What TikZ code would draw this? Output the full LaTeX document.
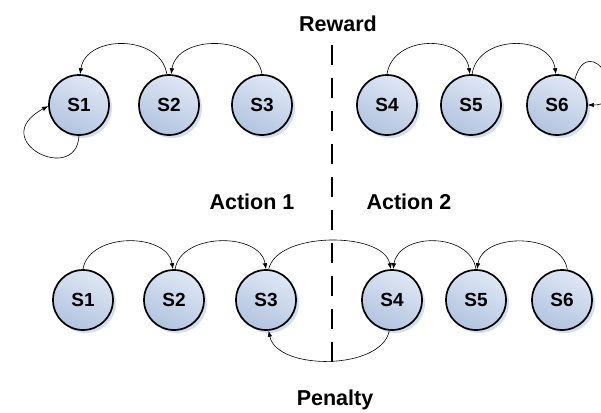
\documentclass[tikz,border=0pt]{standalone}
\usepackage{fontspec}
\setmainfont{Liberation Sans}
\usetikzlibrary{arrows.meta,shadows}

\definecolor{statetop}{HTML}{DFE7F4}
\definecolor{statebottom}{HTML}{B2C4E0}
\definecolor{shadowblue}{HTML}{C9D6EC}

\tikzset{
  statenode/.style={circle, draw=black, line width=1.7pt, minimum size=60pt, inner sep=0pt,
    top color=statetop, bottom color=statebottom, shading angle=-25,
    font=\fontsize{19}{21}\selectfont\bfseries,
    drop shadow={shadow xshift=3pt, shadow yshift=-3pt, fill=shadowblue, opacity=0.8}},
  heading/.style={font=\fontsize{21.5}{24}\selectfont\bfseries, inner sep=0pt},
  trans/.style={-{Latex[length=6pt,width=4.5pt]}, line width=0.6pt},
  divider/.style={line width=1.3pt, dash pattern=on 20pt off 13pt}
}

\begin{document}
\begin{tikzpicture}[x=1pt, y=-1pt]
  \useasboundingbox (0,0) rectangle (601,412);
  \clip (0,0) rectangle (601,412);
  \fill[white] (0,0) rectangle (601,412);

  % divider between the two actions
  \coordinate (divtop) at (332,45);
  \coordinate (divbot) at (332,374);
  \draw[divider] (divtop) -- (divbot);

  % headings
  \node[heading] (reward)  at (338,24)  {Reward};
  \node[heading] (act1)    at (252,202) {Action 1};
  \node[heading] (act2)    at (409,202) {Action 2};
  \node[heading] (penalty) at (335,400) {Penalty};

  % reward row
  \node[statenode] (r1) at (79,105)  {S1};
  \node[statenode] (r2) at (169,105) {S2};
  \node[statenode] (r3) at (262,105) {S3};
  \node[statenode] (r4) at (387,105) {S4};
  \node[statenode] (r5) at (471,105) {S5};
  \node[statenode] (r6) at (557,105) {S6};

  % penalty row
  \node[statenode] (p1) at (83,300)  {S1};
  \node[statenode] (p2) at (174,300) {S2};
  \node[statenode] (p3) at (266,300) {S3};
  \node[statenode] (p4) at (392,300) {S4};
  \node[statenode] (p5) at (476,300) {S5};
  \node[statenode] (p6) at (562,300) {S6};

  % reward transitions
  \draw[trans] (r2.94) .. controls +(-6,-40) and +(6,-40) .. (r1.88);
  \draw[trans] (r3.90) .. controls +(-6,-40) and +(6,-40) .. (r2.86);
  \draw[trans] (r1.south) .. controls +(-3,50) and +(-63,34) .. (r1.182);
  \draw[trans] (r4.90) .. controls +(6,-40) and +(-6,-40) .. (r5.92);
  \draw[trans] (r5.88) .. controls +(6,-40) and +(-6,-40) .. (r6.92);
  \draw[trans] (r6.55) .. controls +(15,-53) and +(47,0) .. (r6.east);

  % penalty transitions
  \draw[trans] (p1.90) .. controls +(6,-37) and +(-6,-37) .. (p2.92);
  \draw[trans] (p2.88) .. controls +(6,-37) and +(-6,-37) .. (p3.90);
  \draw[trans] (p3.85) .. controls +(8,-38) and +(-8,-38) .. (p4.92);
  \draw[trans] (p5.90) .. controls +(-6,-37) and +(6,-37) .. (p4.88);
  \draw[trans] (p6.80) .. controls +(-6,-37) and +(6,-37) .. (p5.88);
  \draw[trans] (p4.265) .. controls +(-8,40) and +(8,40) .. (p3.275);
\end{tikzpicture}
\end{document}
